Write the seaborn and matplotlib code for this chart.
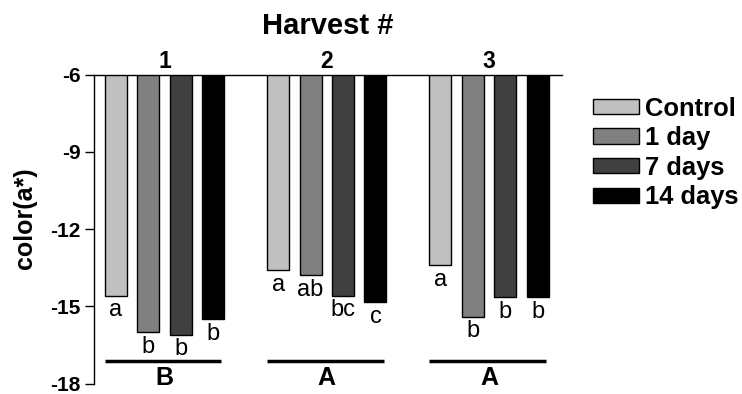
import matplotlib
matplotlib.use("Agg")
import matplotlib.pyplot as plt
import seaborn as sns
import pandas as pd

# ---- data ----
harvests = ["1", "2", "3"]
treatments = ["Control", "1 day", "7 days", "14 days"]
control = [-14.6, -13.6, -13.4]
day1 = [-16.0, -13.8, -15.4]
day7 = [-16.1, -14.6, -14.65]
day14 = [-15.5, -14.85, -14.65]
letters_control = ["a", "a", "a"]
letters_day1 = ["b", "ab", "b"]
letters_day7 = ["b", "bc", "b"]
letters_day14 = ["b", "c", "b"]
group_letters = ["B", "A", "A"]
yticks = [-6, -9, -12, -15, -18]
colors = ["#c0c0c0", "#808080", "#404040", "#000000"]

series = [control, day1, day7, day14]
letters = [letters_control, letters_day1, letters_day7, letters_day14]

rows = []
for t, vals in zip(treatments, series):
    for h, v in zip(harvests, vals):
        rows.append({"Harvest": h, "Treatment": t, "value": v})
df = pd.DataFrame(rows)

sns.set_style("white")
plt.rcParams["font.family"] = ["Liberation Sans", "DejaVu Sans"]
plt.rcParams["text.color"] = "black"
plt.rcParams["axes.labelcolor"] = "black"
plt.rcParams["xtick.color"] = "black"
plt.rcParams["ytick.color"] = "black"

fig = plt.figure(figsize=(7.42, 3.94), dpi=100)
ax = fig.add_axes([94 / 742, 1 - 383.5 / 394, (562 - 94) / 742, (383.5 - 74.7) / 394])

sns.barplot(data=df, x="Harvest", y="value", hue="Treatment", order=harvests,
            hue_order=treatments, palette=colors, errorbar=None, gap=0.32,
            edgecolor="black", linewidth=1.0, ax=ax, legend=True)

ax.set_ylim(-18, -6)
ax.set_xlim(-0.435, 2.45)
ax.set_yticks(yticks)
ax.set_yticklabels([str(t) for t in yticks], fontsize=15, fontweight="bold", color="black")
ax.tick_params(axis="y", direction="out", length=6.5, width=1.0, pad=3, left=True, colors="black")
ax.set_xticks([])
ax.set_xlabel("")
ax.set_ylabel("")
for s in ["right", "bottom"]:
    ax.spines[s].set_visible(False)
for s in ["left", "top"]:
    ax.spines[s].set_visible(True)
    ax.spines[s].set_color("black")
    ax.spines[s].set_linewidth(1.0)

# significance letters under bars
for cont, labs in zip(ax.containers, letters):
    for bar, lab in zip(cont, labs):
        xc = bar.get_x() + bar.get_width() / 2
        val = min(bar.get_y(), bar.get_y() + bar.get_height())
        ax.annotate(lab, (xc, val), xytext=(0, -2.5), textcoords="offset points",
                    ha="center", va="top", fontsize=17, color="black")

# group numbers on top, group lines and letters below
for i, h in enumerate(harvests):
    ax.annotate(h, (i, 1), xycoords=("data", "axes fraction"), xytext=(0, 4.6),
                textcoords="offset points", ha="center", va="baseline",
                fontsize=16.5, fontweight="bold", color="black")
    ax.plot([i - 0.37, i + 0.35], [-17.12, -17.12], color="black", lw=2.5,
            clip_on=False, solid_capstyle="butt")
    ax.text(i, -17.8, group_letters[i], ha="center", va="center",
            fontsize=18, fontweight="bold", color="black")

fig.text(328 / 742, 1 - 34.3 / 394, "Harvest #", ha="center", va="baseline",
         fontsize=21, fontweight="bold", color="black")
fig.text(25 / 742, 1 - 218 / 394, "color(a*)", ha="center", va="center",
         rotation=90, fontsize=18, fontweight="bold", color="black")

leg = ax.legend(loc="upper left", bbox_to_anchor=(593 / 742, 1 - 96.5 / 394),
                bbox_transform=fig.transFigure, frameon=False, title=None,
                prop={"weight": "bold", "size": 18.4}, handlelength=1.8,
                handleheight=0.55, handletextpad=0.25, labelspacing=0.22,
                borderpad=0, borderaxespad=0)
for p in leg.get_patches():
    p.set_edgecolor("black")
    p.set_linewidth(1.0)
for t in leg.get_texts():
    t.set_color("black")

fig.savefig("out.png", dpi=100)
